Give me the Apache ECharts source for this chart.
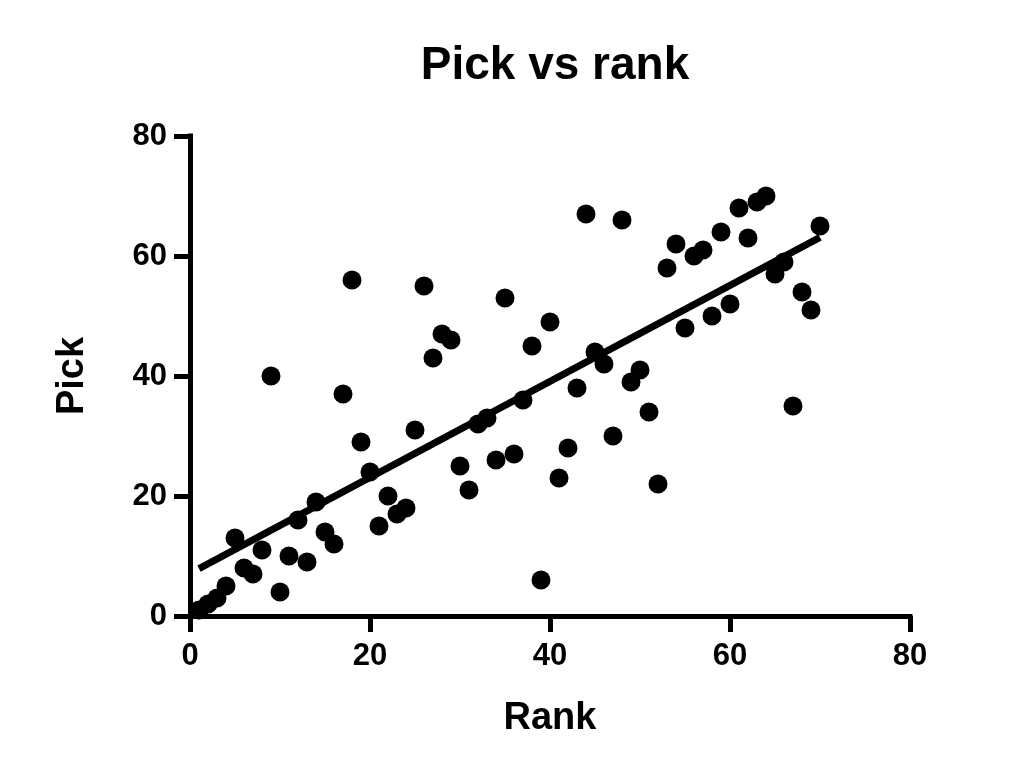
<!DOCTYPE html>
<html>
<head>
<meta charset="utf-8">
<title>Pick vs rank</title>
<script src="https://cdn.jsdelivr.net/npm/echarts@6/dist/echarts.min.js"></script>
<style>
  html, body { margin: 0; padding: 0; background: #fff; }
  #chart { width: 1024px; height: 778px; }
</style>
</head>
<body>
<div id="chart"></div>
<script>
// rank (x) and draft pick (y) for each player
const rank = [
  1, 2, 3, 4, 5, 6, 7, 8, 9, 10,
  11, 12, 13, 14, 15, 16, 17, 18, 19, 20,
  21, 22, 23, 24, 25, 26, 27, 28, 29, 30,
  31, 32, 33, 34, 35, 36, 37, 38, 39, 40,
  41, 42, 43, 44, 45, 46, 47, 48, 49, 50,
  51, 52, 53, 54, 55, 56, 57, 58, 59, 60,
  61, 62, 63, 64, 65, 66, 67, 68, 69, 70
];
const pick = [
  1, 2, 3, 5, 13, 8, 7, 11, 40, 4,
  10, 16, 9, 19, 14, 12, 37, 56, 29, 24,
  15, 20, 17, 18, 31, 55, 43, 47, 46, 25,
  21, 32, 33, 26, 53, 27, 36, 45, 6, 49,
  23, 28, 38, 67, 44, 42, 30, 66, 39, 41,
  34, 22, 58, 62, 48, 60, 61, 50, 64, 52,
  68, 63, 69, 70, 57, 59, 35, 54, 51, 65
];
// fitted line ends
const fitX = [1, 70];
const fitY = [7.9, 63.1];
const xTicks = [0, 20, 40, 60, 80];
const yTicks = [0, 20, 40, 60, 80];

const font = '"Liberation Sans Narrow", "Liberation Sans", Arial, sans-serif';

const points = rank.map((r, i) => [r, pick[i]]);
const fitLine = fitX.map((x, i) => [x, fitY[i]]);

const axisCommon = {
  type: 'value',
  min: 0,
  max: 80,
  interval: 20,
  splitLine: { show: false },
  axisLine: { show: true, onZero: false, lineStyle: { color: '#000', width: 5, cap: 'square' } },
  axisTick: { show: true, inside: false, length: 16, lineStyle: { color: '#000', width: 5 } },
  nameLocation: 'middle',
  nameTextStyle: { color: '#000', fontFamily: font, fontWeight: 'bold', fontSize: 38 }
};

const chart = echarts.init(document.getElementById('chart'));
chart.setOption({
  backgroundColor: '#fff',
  animation: false,
  title: {
    text: 'Pick vs rank',
    left: 550,
    textAlign: 'center',
    top: 38,
    textStyle: { color: '#000', fontFamily: font, fontWeight: 'bold', fontSize: 46 }
  },
  grid: { left: 190, right: 114, top: 136, bottom: 162 },
  xAxis: Object.assign({}, axisCommon, {
    name: 'Rank',
    nameGap: 84,
    axisLabel: {
      color: '#000', fontFamily: font, fontWeight: 'bold', fontSize: 31, margin: 25,
      formatter: v => xTicks.includes(v) ? String(v) : ''
    }
  }),
  yAxis: Object.assign({}, axisCommon, {
    name: 'Pick',
    nameGap: 98,
    nameRotate: 90,
    axisLabel: {
      color: '#000', fontFamily: font, fontWeight: 'bold', fontSize: 31, margin: 23,
      formatter: v => yTicks.includes(v) ? String(v) : ''
    }
  }),
  series: [
    {
      type: 'line',
      data: fitLine,
      symbol: 'none',
      lineStyle: { color: '#000', width: 7 },
      z: 2
    },
    {
      type: 'scatter',
      data: points,
      symbol: 'circle',
      symbolSize: 19,
      itemStyle: { color: '#000', opacity: 1 },
      clip: false,
      z: 3
    }
  ]
});
</script>
</body>
</html>
